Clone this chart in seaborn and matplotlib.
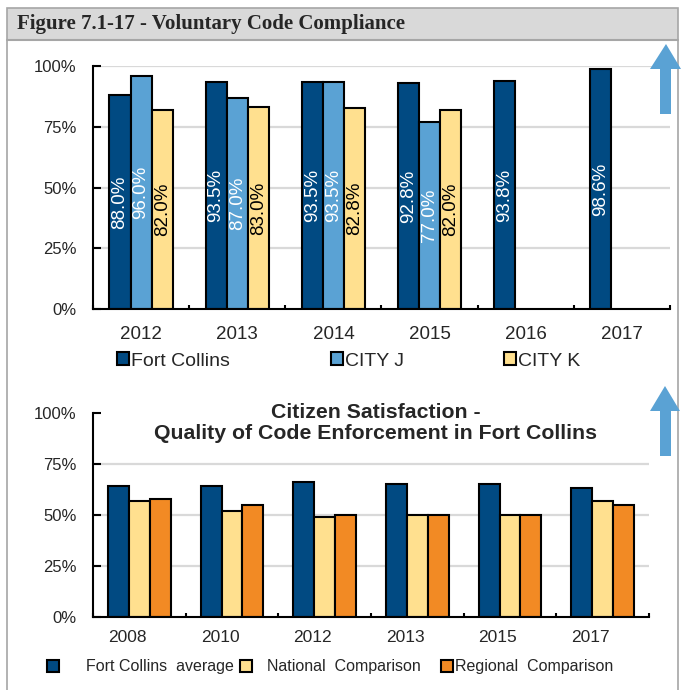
import numpy as np
import pandas as pd
import matplotlib
matplotlib.use("Agg")
import matplotlib.pyplot as plt
import matplotlib.transforms as mtransforms
from matplotlib.patches import Patch, Rectangle, Polygon
import seaborn as sns

# ================= DADOS =================
years_top = ['2012', '2013', '2014', '2015', '2016', '2017']
fort_collins = [88.0, 93.5, 93.5, 92.8, 93.8, 98.6]
city_j = [96.0, 87.0, 93.5, 77.0, np.nan, np.nan]
city_k = [82.0, 83.0, 82.8, 82.0, np.nan, np.nan]
series_top = ['Fort Collins', 'CITY J', 'CITY K']

years_bottom = ['2008', '2010', '2012', '2013', '2015', '2017']
fc_average = [64, 64, 66, 65, 65, 63]
national = [57, 52, 49, 50, 50, 57]
regional = [58, 55, 50, 50, 50, 55]
series_bottom = ['Fort Collins  average', 'National  Comparison', 'Regional  Comparison']

pct_ticks = [0, 25, 50, 75, 100]

# ================= CORES =================
NAVY = '#014a82'
LBLUE = '#5aa2d4'
YELLOW = '#ffe08f'
ORANGE = '#f28a24'
GRID = '#d9d9d9'
ARROW = '#5aa2d4'

sns.set_theme(style='white')
plt.rcParams['font.family'] = ['Liberation Sans', 'DejaVu Sans']

W, H = 683, 690
def fx(x):
    return x / W
def fy(y):
    return 1 - y / H

fig = plt.figure(figsize=(W / 100, H / 100), dpi=100)

# moldura e cabeçalho
fig.add_artist(Rectangle((fx(7), fy(40)), (678 - 7) / W, 32 / H, transform=fig.transFigure,
                         facecolor='#d9d9d9', edgecolor='none', zorder=0))
fig.add_artist(Rectangle((fx(7), fy(700)), (678 - 7) / W, (700 - 8) / H, transform=fig.transFigure,
                         facecolor='none', edgecolor='#a6a6a6', lw=1.2, zorder=1))
fig.add_artist(plt.Line2D([fx(7), fx(678)], [fy(40), fy(40)], transform=fig.transFigure,
                          color='#a6a6a6', lw=1.5))
fig.text(fx(17), fy(24), 'Figure 7.1-17 - Voluntary Code Compliance', fontfamily='Liberation Serif',
         fontweight='bold', fontsize=15, va='center', ha='left')


def montar_df(anos, valores, nomes):
    linhas = []
    for nome, vals in zip(nomes, valores):
        for ano, v in zip(anos, vals):
            linhas.append({'ano': ano, 'serie': nome, 'valor': v})
    return pd.DataFrame(linhas).dropna()


def estilo_eixo(ax, n, draw_top_grid):
    ax.set_xlim(-0.5, n - 0.5)
    ax.set_ylim(0, 100)
    for g in pct_ticks[1:]:
        if g == 100 and not draw_top_grid:
            continue
        ax.axhline(g, color=GRID, lw=1.6, zorder=0)
    for s in ['top', 'right']:
        ax.spines[s].set_visible(False)
    for s in ['left', 'bottom']:
        ax.spines[s].set_color('black')
        ax.spines[s].set_linewidth(1.5)
        ax.spines[s].set_zorder(5)
    ax.set_yticks(pct_ticks)
    ax.set_yticklabels([f'{t}%' for t in pct_ticks])
    ax.tick_params(axis='y', direction='in', length=6, width=1.5, color='black',
                   labelsize=12, pad=12, left=True)
    ax.set_xticks(np.arange(-0.5, n, 1.0), minor=True)
    ax.tick_params(axis='x', which='minor', direction='in', length=3, width=1.5, color='black', bottom=True)
    ax.tick_params(axis='x', which='major', length=0)
    ax.set_xlabel('')
    ax.set_ylabel('')


# ================= GRÁFICO 1 =================
ax1 = fig.add_axes([fx(93), fy(309), (670 - 93) / W, (309 - 66) / H])
df_top = montar_df(years_top, [fort_collins, city_j, city_k], series_top)
sns.barplot(data=df_top, x='ano', y='valor', hue='serie', order=years_top, hue_order=series_top,
            palette=[NAVY, LBLUE, YELLOW], saturation=1, width=0.66, errorbar=None,
            edgecolor='black', linewidth=1.5, legend=False, ax=ax1, zorder=2)
estilo_eixo(ax1, len(years_top), True)
ax1.tick_params(axis='x', which='major', labelsize=13.5, pad=12)

cores_rotulo = ['white', 'white', 'black']
for cont, cor in zip(ax1.containers, cores_rotulo):
    ax1.bar_label(cont, fmt='{:.1f}%', label_type='center', rotation=90, color=cor, fontsize=13.5)

# legenda de cima (uma por entrada para controlar a posição)
for nome, cor, xpos in zip(series_top, [NAVY, LBLUE, YELLOW], [117, 331, 504]):
    fig.legend(handles=[Patch(facecolor=cor, edgecolor='black', lw=1.5)], labels=[nome],
               loc='center left', bbox_to_anchor=(fx(xpos), fy(361)), frameon=False, fontsize=14,
               handlelength=0.62, handleheight=0.62, handletextpad=0.12, borderpad=0, borderaxespad=0)

# ================= GRÁFICO 2 =================
ax2 = fig.add_axes([fx(93), fy(617), (649 - 93) / W, (617 - 413) / H])
df_bot = montar_df(years_bottom, [fc_average, national, regional], series_bottom)
sns.barplot(data=df_bot, x='ano', y='valor', hue='serie', order=years_bottom, hue_order=series_bottom,
            palette=[NAVY, YELLOW, ORANGE], saturation=1, width=0.675, errorbar=None,
            edgecolor='black', linewidth=1.5, legend=False, ax=ax2, zorder=2)
estilo_eixo(ax2, len(years_bottom), False)
ax2.tick_params(axis='x', which='major', labelsize=12.5, pad=9)
desloc = mtransforms.ScaledTranslation(-12 / 100, 0, fig.dpi_scale_trans)
for lbl in ax2.get_xticklabels():
    lbl.set_transform(lbl.get_transform() + desloc)

fig.text(fx(376), fy(423), 'Citizen Satisfaction -\nQuality of Code Enforcement in Fort Collins',
         ha='center', va='center', multialignment='center', fontsize=15.3, fontweight='bold',
         linespacing=1.1)

for nome, cor, xpos, pad in zip(series_bottom, [NAVY, YELLOW, ORANGE], [47, 240, 441], [1.75, 1.0, 0.15]):
    fig.legend(handles=[Patch(facecolor=cor, edgecolor='black', lw=1.5)], labels=[nome],
               loc='center left', bbox_to_anchor=(fx(xpos), fy(667)), frameon=False, fontsize=11.5,
               handlelength=0.72, handleheight=0.72, handletextpad=pad, borderpad=0, borderaxespad=0)

# setas azuis
seta_top = [(660, 114), (660, 69), (650, 69), (666, 44), (681, 69), (671, 69), (671, 114)]
seta_bot = [(660, 456), (660, 411), (650, 411), (665, 386), (680, 411), (671, 411), (671, 456)]
for pts in [seta_top, seta_bot]:
    fig.add_artist(Polygon([(fx(x), fy(y)) for x, y in pts], closed=True, transform=fig.transFigure,
                           facecolor=ARROW, edgecolor='none', zorder=10))

fig.savefig('out.png', dpi=100)
